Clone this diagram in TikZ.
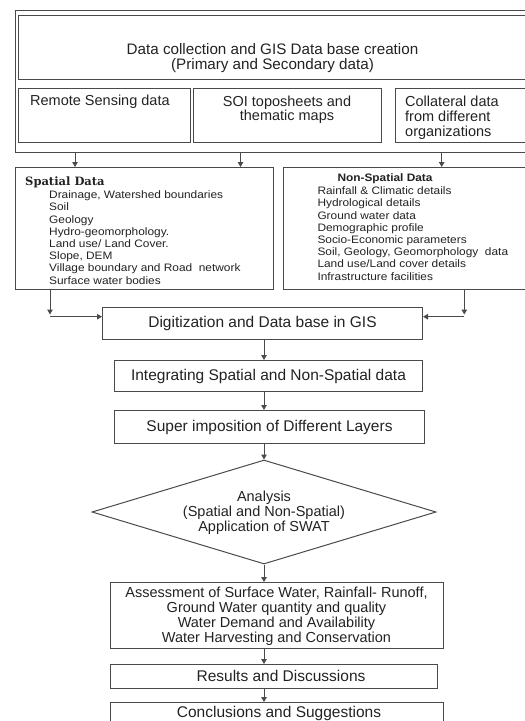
\documentclass[tikz,border=0pt]{standalone}
\usepackage{fontspec}
\setmainfont{Liberation Sans}
\newfontfamily\listfont[FakeStretch=1.1]{Liberation Sans}
\newfontfamily\serifhead{DejaVu Serif}
\usetikzlibrary{arrows.meta,shapes.geometric}
\definecolor{ln}{HTML}{4A4A4A}
\definecolor{tx}{HTML}{222222}
\begin{document}
\begin{tikzpicture}[x=1pt,y=-1pt,
  box/.style={draw=ln,line width=1pt,rectangle,inner sep=0pt,anchor=north west},
  txt/.style={inner sep=0pt,text=tx},
  big/.style={font=\fontsize{15.5}{17}\selectfont},
  mid/.style={font=\fontsize{14.5}{14.5}\selectfont},
  lst/.style={font=\listfont\fontsize{10.8}{12.24}\selectfont},
  arr/.style={draw=ln,line width=1pt,-{Triangle[length=5pt,width=5.5pt]}}]
\useasboundingbox (0,0) rectangle (525,721);
\clip (0,0) rectangle (525,721);
% top group
\node[box,minimum width=520pt,minimum height=142pt] (outer) at (15,10) {};
\node[box,minimum width=509pt,minimum height=64pt] (title) at (18,15) {};
\node[txt,align=center,anchor=north,font=\fontsize{15.2}{14.6}\selectfont] (titletx) at (272.5,43.5) {Data collection and GIS Data base creation\\(Primary and Secondary data)};
\node[box,minimum width=172pt,minimum height=54pt] (rs) at (18,88) {};
\node[box,minimum width=188pt,minimum height=54pt] (soi) at (193,88) {};
\node[box,minimum width=140pt,minimum height=54pt] (col) at (395,88) {};
\node[txt,mid,anchor=base west] (rstx) at (30,105.5) {Remote Sensing data};
\node[txt,align=center,anchor=north,font=\fontsize{14.5}{14}\selectfont] (soitx) at (287,96) {SOI toposheets and\\thematic maps};
\node[txt,align=left,anchor=north west,font=\fontsize{14.5}{14.8}\selectfont] (coltx) at (405,96) {Collateral data\\from different\\organizations};
% data boxes
\node[box,minimum width=258pt,minimum height=122pt] (spatial) at (15,167) {};
\node[box,minimum width=252pt,minimum height=122pt] (nonsp) at (283,167) {};
\node[txt,anchor=base west,font=\serifhead\bfseries\fontsize{11.5}{12}\selectfont] (sphead) at (25,185) {Spatial Data};
\node[txt,lst,align=left,anchor=north west] (splist) at (49,190.5) {Drainage, Watershed boundaries\\Soil\\Geology\\Hydro-geomorphology.\\Land use/ Land Cover.\\Slope, DEM\\Village boundary and Road\ \ network\\Surface water bodies};
\node[txt,lst,anchor=base west,font=\listfont\bfseries\fontsize{10.8}{12.24}\selectfont] (nshead) at (337.3,181.7) {Non-Spatial Data};
\node[txt,lst,align=left,anchor=north west] (nslist) at (317.3,186.5) {Rainfall \& Climatic details\\Hydrological details\\Ground water data\\Demographic profile\\Socio-Economic parameters\\Soil, Geology, Geomorphology\ \ data\\Land use/Land cover details\\Infrastructure facilities};
% main column
\node[box,big,minimum width=320pt,minimum height=32pt,text=tx] (dig) at (102,307) {Digitization and Data base in GIS};
\node[box,big,minimum width=308pt,minimum height=31pt,text=tx] (integ) at (114,360) {Integrating Spatial and Non-Spatial data};
\node[box,big,minimum width=310pt,minimum height=33pt,text=tx] (sup) at (114,410) {Super imposition of Different Layers};
\node[draw=ln,line width=1pt,diamond,inner sep=0pt,minimum width=344pt,minimum height=104pt] (dia) at (264,512) {};
\node[txt,mid,align=center,font=\fontsize{14.5}{15}\selectfont] (diatx) at (264,513) {Analysis\\(Spatial and Non-Spatial)\\Application of SWAT};
\node[box,minimum width=333pt,minimum height=66pt] (assess) at (110,582) {};
\node[txt,align=center,font=\fontsize{14.5}{15}\selectfont] (assesstx) at (276.5,616) {Assessment of Surface Water, Rainfall- Runoff,\\Ground Water quantity and quality\\Water Demand and Availability\\Water Harvesting and Conservation};
\node[box,minimum width=327pt,minimum height=24pt] (res) at (110,664) {};
\node[txt,big,anchor=base] (restx) at (281,681.5) {Results and Discussions};
\node[box,minimum width=333pt,minimum height=30pt] (concl) at (110,702) {};
\node[txt,big,anchor=base] (concltx) at (279,717.5) {Conclusions and Suggestions};
% connectors
\coordinate (a1) at (75,0);
\coordinate (a2) at (240.5,0);
\coordinate (a3) at (441.7,0);
\draw[arr] (outer.south -| a1) -- (spatial.north -| a1);
\draw[arr] (outer.south -| a2) -- (spatial.north -| a2);
\draw[arr] (outer.south -| a3) -- (nonsp.north -| a3);
\coordinate (clv) at (50,314.5);
\coordinate (clh) at (50,316.7);
\coordinate (crv) at (464.3,314.5);
\coordinate (crh) at (464.3,316.7);
\draw[arr] (spatial.south -| clv) -- (clv);
\draw[arr] (clh) -- (clh -| dig.west);
\draw[arr] (nonsp.south -| crv) -- (crv);
\draw[arr] (crh) -- (crh -| dig.east);
\coordinate (cx) at (264,0);
\draw[arr] (dig.south -| cx) -- (integ.north -| cx);
\draw[arr] (integ.south -| cx) -- (sup.north -| cx);
\draw[arr] (sup.south -| cx) -- (dia.north);
\draw[arr] (dia.south) -- (assess.north -| cx);
\draw[arr] (assess.south -| cx) -- (res.north -| cx);
\draw[arr] (res.south -| cx) -- (concl.north -| cx);
\end{tikzpicture}
\end{document}
